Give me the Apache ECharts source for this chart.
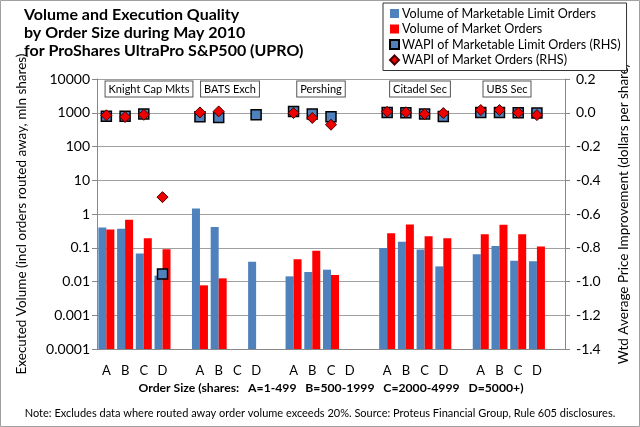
<!DOCTYPE html>
<html><head><meta charset="utf-8">
<script src="https://cdn.jsdelivr.net/npm/echarts@6/dist/echarts.min.js"></script>
<style>html,body{margin:0;padding:0;background:#fff}#c{width:640px;height:427px}</style>
</head><body><div id="c"></div>
<script>
var categories = ['A','B','C','D','', 'A','B','C','D','', 'A','B','C','D','', 'A','B','C','D','', 'A','B','C','D',''];
var firms = ['Knight Cap Mkts','BATS Exch','Pershing','Citadel Sec','UBS Sec'];
var volLimit = [0.40,0.365,0.068,0.0149,null, 1.46,0.41,null,0.0385,null, 0.0142,0.0191,0.0224,null,null, 0.098,0.15,0.089,0.028,null, 0.064,0.112,0.041,0.040,null];
var volMarket = [0.35,0.67,0.19,0.091,null, 0.0077,0.0124,null,null,null, 0.046,0.0815,0.0156,null,null, 0.27,0.49,0.22,0.19,null, 0.25,0.48,0.25,0.109,null];
var wapiLimit = [-0.02,-0.02,-0.008,-0.955,null, -0.024,-0.028,null,-0.012,null, 0.008,-0.008,-0.024,null,null, 0.002,0.0,-0.008,-0.022,null, 0.002,0.002,0.0,-0.002,null];
var wapiMarket = [-0.015,-0.025,-0.012,-0.50,null, 0.002,0.008,null,null,null, -0.002,-0.031,-0.071,null,null, 0.006,0.003,-0.008,-0.002,null, 0.016,0.016,0.0,-0.014,null];

var FONT = 'Lato';
var chart = echarts.init(document.getElementById('c'), null, {renderer:'canvas'});
var firmX = [149, 230, 321, 420, 507];
var graphics = [
  {type:'rect', shape:{x:0.5,y:0.5,width:639,height:426}, style:{fill:'none', stroke:'#a0a0a0', lineWidth:1}, silent:true},
  {type:'text', x:320, y:413, style:{text:'Note: Excludes data where routed away order volume exceeds 20%. Source: Proteus Financial Group, Rule 605 disclosures.', fontFamily:FONT, fontSize:11, fill:'#000', align:'center', verticalAlign:'middle'}}
];
firms.forEach(function(f,i){
  graphics.push({type:'text', x:firmX[i], y:89, z:10, style:{text:f, fontFamily:FONT, fontSize:11, fill:'#000', align:'center', verticalAlign:'middle', backgroundColor:'#fff', borderColor:'#555', borderWidth:1, padding:[2,3,2,3]}});
});

chart.setOption({
  animation:false,
  backgroundColor:'#fff',
  textStyle:{fontFamily:FONT},
  title:{text:'Volume and Execution Quality\nby Order Size during May 2010\nfor ProShares UltraPro S&P500 (UPRO)', left:19, top:1,
    textStyle:{fontFamily:FONT, fontSize:16, fontWeight:'bold', lineHeight:18, color:'#000'}},
  legend:{orient:'vertical', left:383, top:3, itemGap:2.5, itemWidth:9, itemHeight:9, padding:[4,6,4,6],
    borderColor:'#333', borderWidth:1, backgroundColor:'#fff',
    textStyle:{fontFamily:FONT, fontSize:12.6, color:'#000', padding:[0,0,0,-2]},
    data:[{name:'Volume of Marketable Limit Orders', icon:'rect'},{name:'Volume of Market Orders', icon:'rect'},
          {name:'WAPI of Marketable Limit Orders (RHS)', icon:'rect'},{name:'WAPI of Market Orders (RHS)', icon:'diamond'}]},
  grid:{left:97, right:75, top:79, bottom:78},
  xAxis:{type:'category', data:categories,
    axisLine:{onZero:false, lineStyle:{color:'#888'}},
    axisTick:{interval:0, length:5, lineStyle:{color:'#888'}},
    axisLabel:{interval:0, fontSize:13, color:'#000', margin:15, fontFamily:FONT},
    name:'Order Size (shares:   A=1-499   B=500-1999   C=2000-4999   D=5000+)', nameLocation:'middle', nameGap:30,
    nameTextStyle:{fontFamily:FONT, fontSize:12.2, fontWeight:'bold', color:'#000'}},
  yAxis:[
    {type:'log', logBase:10, min:0.0001, max:10000, startValue:0.0001, interval:1, splitNumber:8,
     axisLine:{show:true, lineStyle:{color:'#888'}}, axisTick:{show:true, length:5, lineStyle:{color:'#888'}},
     splitLine:{show:true, lineStyle:{color:'#a0a0a0', width:1}},
     axisLabel:{fontSize:14, color:'#000', margin:7, fontFamily:FONT, formatter:function(v){
        var e = Math.round(Math.log10(v));
        return e >= 0 ? String(Math.round(v)) : v.toFixed(-e);
     }},
     name:'Executed Volume (incl orders routed away, mln shares)', nameLocation:'middle', nameGap:68, nameRotate:90,
     nameTextStyle:{fontFamily:FONT, fontSize:13.5, color:'#000'}},
    {type:'value', min:-1.4, max:0.2, interval:0.2, position:'right',
     axisLine:{show:true, lineStyle:{color:'#888'}}, axisTick:{show:true, length:5, lineStyle:{color:'#888'}},
     splitLine:{show:false},
     axisLabel:{fontSize:14, color:'#000', margin:11, fontFamily:FONT, formatter:function(v){ return (Math.round(v*10)/10).toFixed(1); }},
     name:'Wtd Average Price Improvement (dollars per share)', nameLocation:'middle', nameGap:52, nameRotate:90,
     nameTextStyle:{fontFamily:FONT, fontSize:13.5, color:'#000'}}
  ],
  series:[
    {name:'Volume of Marketable Limit Orders', type:'bar', data:volLimit, barWidth:8, barGap:'0%', itemStyle:{color:'#4f81bd'}},
    {name:'Volume of Market Orders', type:'bar', data:volMarket, barWidth:8, barGap:'0%', itemStyle:{color:'#ff0000'}},
    {name:'WAPI of Marketable Limit Orders (RHS)', type:'scatter', yAxisIndex:1, data:wapiLimit, symbol:'rect', symbolSize:10, z:5,
     itemStyle:{color:'#4f81bd', borderColor:'#000', borderWidth:1.5, opacity:1}},
    {name:'WAPI of Market Orders (RHS)', type:'scatter', yAxisIndex:1, data:wapiMarket, symbol:'diamond', symbolSize:11, z:6,
     itemStyle:{color:'#ee0000', borderColor:'#400', borderWidth:1, opacity:1}}
  ],
  graphic:graphics
});
</script></body></html>
